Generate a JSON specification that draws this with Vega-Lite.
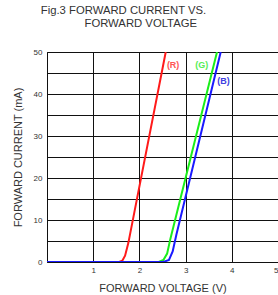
{
  "$schema": "https://vega.github.io/schema/vega-lite/v6.json",
  "autosize": "none",
  "width": 231,
  "height": 210,
  "padding": {"left": 47, "top": 52, "right": 0, "bottom": 33},
  "background": "white",
  "title": {
    "text": ["Fig.3 FORWARD CURRENT VS.", "\u200b\u00a0\u00a0\u00a0\u00a0\u00a0\u00a0\u00a0\u00a0\u00a0\u00a0\u00a0FORWARD VOLTAGE"],
    "anchor": "middle",
    "dx": -39,
    "offset": 19,
    "font": "Liberation Sans",
    "fontSize": 11.3,
    "fontWeight": "normal",
    "color": "#333333",
    "lineHeight": 13
  },
  "config": {
    "view": {"stroke": "#111111", "strokeWidth": 1},
    "axis": {
      "labelFont": "Liberation Sans",
      "titleFont": "Liberation Sans",
      "labelColor": "#333333",
      "titleColor": "#333333",
      "labelFontSize": 8,
      "titleFontSize": 11,
      "titleFontWeight": "normal",
      "ticks": false,
      "domain": false,
      "grid": true,
      "gridColor": "#111111",
      "gridOpacity": 1,
      "gridWidth": 1,
      "labelOverlap": false
    }
  },
  "datasets": {
    "curves": [
      {"series": "R", "V": 0, "I": 0},
      {"series": "R", "V": 1.56, "I": 0},
      {"series": "R", "V": 1.63, "I": 0.3},
      {"series": "R", "V": 1.69, "I": 1.5},
      {"series": "R", "V": 1.76, "I": 4.5},
      {"series": "R", "V": 2.57, "I": 50},
      {"series": "G", "V": 0, "I": 0},
      {"series": "G", "V": 2.42, "I": 0},
      {"series": "G", "V": 2.52, "I": 0.5},
      {"series": "G", "V": 2.6, "I": 2},
      {"series": "G", "V": 2.67, "I": 5.5},
      {"series": "G", "V": 3.68, "I": 50},
      {"series": "B", "V": 0, "I": 0},
      {"series": "B", "V": 2.52, "I": 0},
      {"series": "B", "V": 2.64, "I": 0.5},
      {"series": "B", "V": 2.72, "I": 2.5},
      {"series": "B", "V": 2.8, "I": 6.5},
      {"series": "B", "V": 3.76, "I": 50}
    ],
    "labels": [
      {"series": "R", "text": "(R)", "V": 2.73, "I": 46.9},
      {"series": "G", "text": "(G)", "V": 3.35, "I": 47},
      {"series": "B", "text": "(B)", "V": 3.82, "I": 43.1}
    ]
  },
  "layer": [
    {
      "data": {"name": "curves"},
      "mark": {"type": "line", "strokeWidth": 2, "clip": true},
      "encoding": {
        "x": {
          "field": "V", "type": "quantitative",
          "scale": {"domain": [0, 5], "nice": false},
          "axis": {
            "tickCount": 10,
            "format": "d",
            "labelExpr": "datum.value % 1 === 0 && datum.value > 0 ? datum.label : ''",
            "labelPadding": 4,
            "titlePadding": 8,
            "title": "FORWARD VOLTAGE (V)"
          }
        },
        "y": {
          "field": "I", "type": "quantitative",
          "scale": {"domain": [0, 50], "nice": false},
          "axis": {
            "tickCount": 10,
            "format": "d",
            "labelExpr": "datum.value % 10 === 0 ? datum.label : ''",
            "labelPadding": 5,
            "titlePadding": 10,
            "title": "FORWARD CURRENT (mA)"
          }
        },
        "color": {
          "field": "series", "type": "nominal",
          "scale": {"domain": ["R", "G", "B"], "range": ["#ff1a1a", "#1aee1a", "#1a1aff"]},
          "legend": null
        },
        "order": {"field": "V", "type": "quantitative"}
      }
    },
    {
      "data": {"name": "labels"},
      "mark": {"type": "text", "font": "Liberation Sans", "fontSize": 9, "fontWeight": "bold"},
      "encoding": {
        "x": {"field": "V", "type": "quantitative"},
        "y": {"field": "I", "type": "quantitative"},
        "text": {"field": "text"},
        "color": {
          "field": "series", "type": "nominal",
          "scale": {"domain": ["R", "G", "B"], "range": ["#ff5555", "#55ee55", "#4040e0"]},
          "legend": null
        }
      }
    }
  ],
  "resolve": {"scale": {"color": "independent"}}
}
